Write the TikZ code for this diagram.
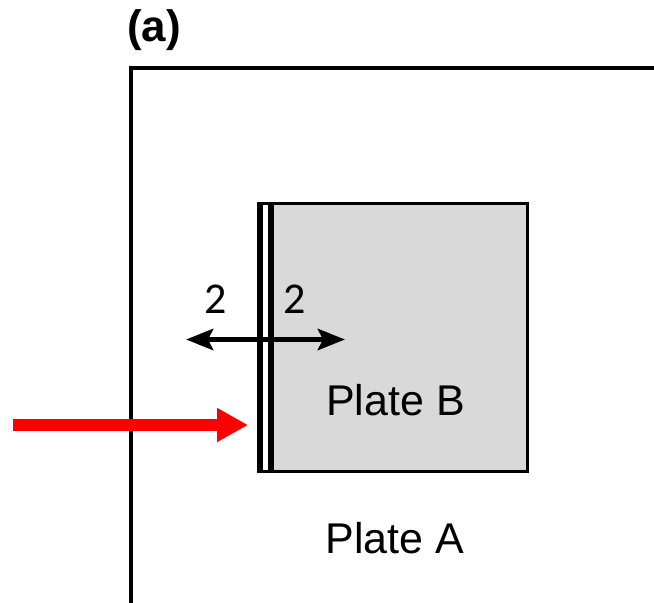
\documentclass[tikz,border=0pt]{standalone}
\usepackage{fontspec}
\setmainfont{Liberation Sans}
\newfontfamily\digitfont{Carlito}
\usetikzlibrary{arrows.meta}
\definecolor{plategray}{RGB}{217,217,217}
\definecolor{arrowred}{RGB}{255,0,0}
\tikzset{
  frameline/.style={line width=3.3pt},
  platebox/.style={draw, fill=plategray, line width=3pt, inner sep=0pt, outer sep=0pt},
  platelabel/.style={anchor=base, inner sep=0pt, font=\fontsize{43}{50}\selectfont},
  numlabel/.style={anchor=base, inner sep=0pt, font=\digitfont\fontsize{44}{50}\selectfont},
  panellabel/.style={anchor=base, inner sep=0pt, font=\bfseries\fontsize{44}{50}\selectfont},
  dirarrow/.style={line width=5.5pt, {Stealth[length=27pt,width=21pt,inset=5pt]}-{Stealth[length=27pt,width=21pt,inset=5pt]}},
  redarrow/.style={arrowred, line width=12pt, -{Triangle[length=31pt,width=32pt]}}
}
\begin{document}
\begin{tikzpicture}[x=1pt,y=-1pt]
\useasboundingbox (0,0) rectangle (654,603);
% Plate A frame
\coordinate (fbl) at (131,605);
\coordinate (ftl) at (131,68);
\coordinate (ftr) at (656,68);
\draw[frameline] (fbl) -- (ftl) -- (ftr);
\node[panellabel] (panel) at (154,41) {(a)};
% Plate B
\node[platebox, minimum width=269pt, minimum height=268pt] (B) at (392.5,337) {};
\fill (257,202) rectangle (263,472);
\fill[white] (263,204.5) rectangle (268,469.5);
\fill (268,203) rectangle (273.5,471);
\node[platelabel] (pB) at (395.5,415) {Plate B};
\node[platelabel] (pA) at (395,553) {Plate A};
% double arrow
\coordinate (al) at (186,339.5);
\coordinate (ar) at (345,339.5);
\draw[dirarrow] (al) -- (ar);
\node[numlabel] (nl) at (215.5,313) {2};
\node[numlabel] (nr) at (295,313) {2};
% red arrow
\coordinate (rs) at (13,425);
\coordinate (re) at (248,425);
\draw[redarrow] (rs) -- (re);
\end{tikzpicture}
\end{document}
